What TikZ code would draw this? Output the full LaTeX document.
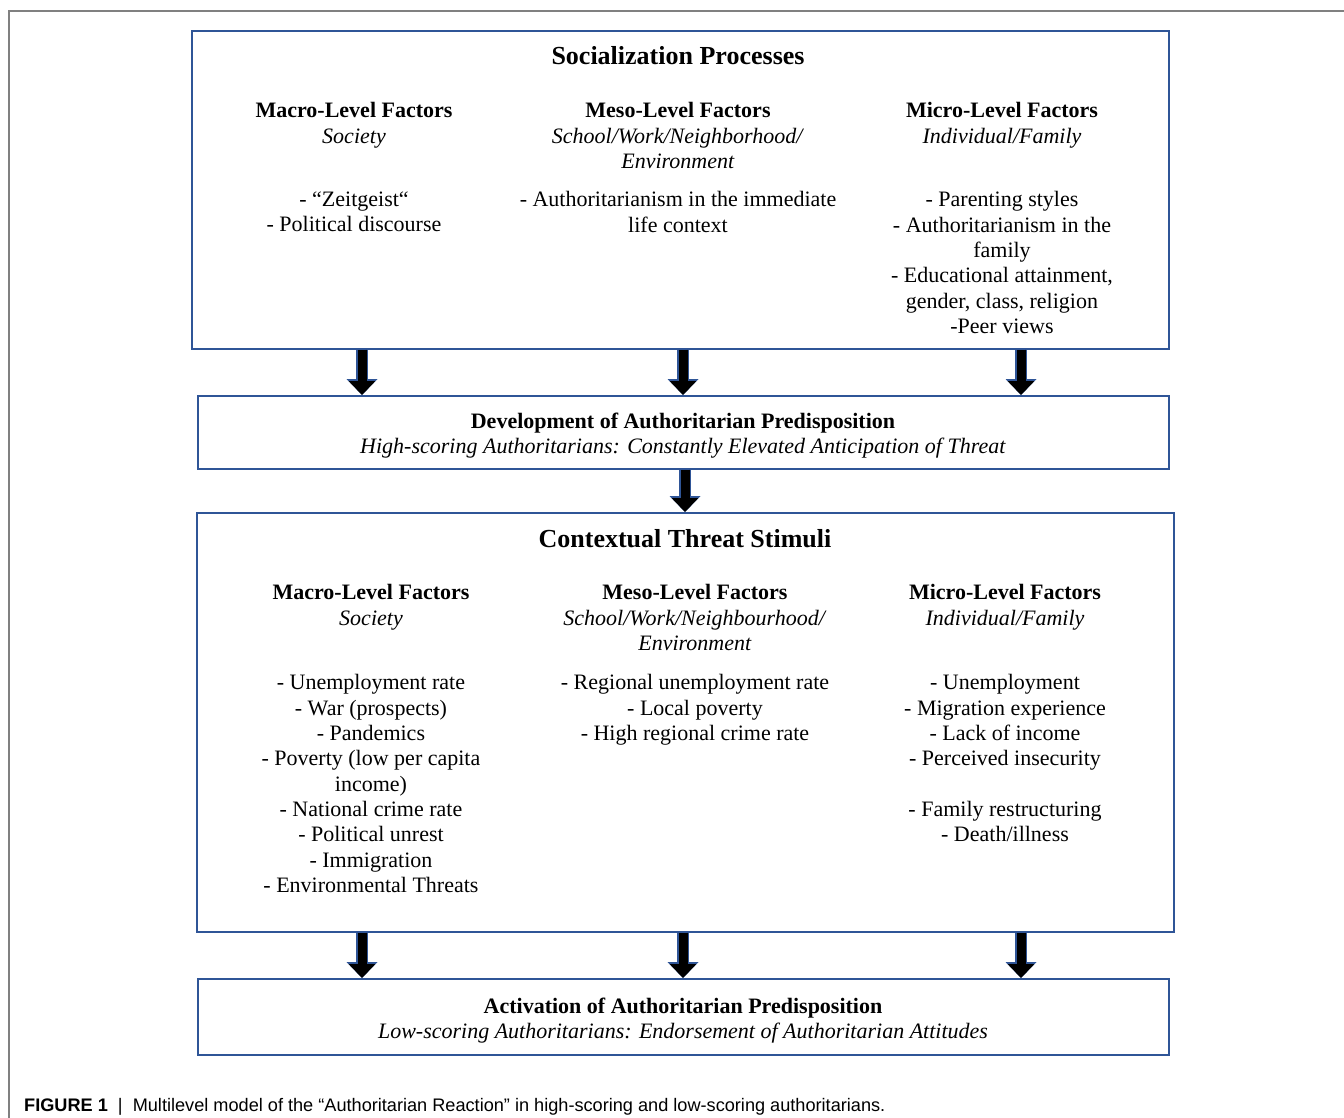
\documentclass[tikz,border=0pt]{standalone}
\usepackage{fontspec}
\setmainfont{Liberation Serif}
\newfontfamily\capfont{Liberation Sans}
\usetikzlibrary{arrows.meta,positioning}

\definecolor{boxblue}{RGB}{47,85,151}
\definecolor{framegray}{RGB}{128,128,128}

\tikzset{
  mainbox/.style={rectangle,draw=boxblue,line width=1.6pt,below right},
  txt/.style={align=center,inner sep=0pt,anchor=north,font=\fontsize{22}{25.3}\selectfont},
  headtxt/.style={align=center,inner sep=0pt,anchor=north,font=\fontsize{26}{30}\selectfont\bfseries},
  fatarrow/.style={draw=black,line width=9pt,-{Triangle[length=14pt,width=26pt]},
    preaction={draw=boxblue,line width=11.5pt,-{Triangle[length=16pt,width=30pt]}}}
}

\begin{document}
\begin{tikzpicture}[x=1pt,y=-1pt]
    \useasboundingbox (0,0) rectangle (1344,1118);
    % page frame
      \draw[framegray,line width=1.2pt] (9,1118) -- (9,11) -- (1344,11);

      % main modules
		  \node[mainbox,minimum width=977pt,minimum height=318pt] (soc) at (191,30) {};
	    \node[mainbox,minimum width=971pt,minimum height=73pt] (dev) at (197,395) {};
	    \node[mainbox,minimum width=977pt,minimum height=419pt] (ctx) at (196,512) {};
	    \node[mainbox,minimum width=971pt,minimum height=76pt] (act) at (197,978) {};

      % socialization processes
      \node[headtxt] (soctitle) at (678,46) {Socialization Processes};
      \node[txt] (socmacro) at (354,102.5) {\textbf{Macro-Level Factors}\\ \textit{Society}};
      \node[txt] (socmeso) at (678,102.5) {\textbf{Meso-Level Factors}\\ \textit{School/Work/Neighborhood/}\\ \textit{Environment}};
      \node[txt] (socmicro) at (1002,102.5) {\textbf{Micro-Level Factors}\\ \textit{Individual/Family}};
      \node[txt] (socmacrolist) at (354,191.5) {- “Zeitgeist“\\ - Political discourse};
      \node[txt] (socmesolist) at (678,191.5) {- Authoritarianism in the immediate\\ life context};
      \node[txt] (socmicrolist) at (1002,191.5) {- Parenting styles\\ - Authoritarianism in the\\ family\\ - Educational attainment,\\ gender, class, religion\\ -Peer views};

      % development
      \node[txt] (devtxt) at (683,412.5) {\textbf{Development of Authoritarian Predisposition}\\ \textit{High-scoring Authoritarians: Constantly Elevated Anticipation of Threat}};

      % contextual threat stimuli
      \node[headtxt] (ctxtitle) at (685,529) {Contextual Threat Stimuli};
      \node[txt] (ctxmacro) at (371,584.5) {\textbf{Macro-Level Factors}\\ \textit{Society}};
      \node[txt] (ctxmeso) at (695,584.5) {\textbf{Meso-Level Factors}\\ \textit{School/Work/Neighbourhood/}\\ \textit{Environment}};
      \node[txt] (ctxmicro) at (1005,584.5) {\textbf{Micro-Level Factors}\\ \textit{Individual/Family}};
      \node[txt] (ctxmacrolist) at (371,674.5) {- Unemployment rate\\ - War (prospects)\\ - Pandemics\\ - Poverty (low per capita\\ income)\\ - National crime rate\\ - Political unrest\\ - Immigration\\ - Environmental Threats};
      \node[txt] (ctxmesolist) at (695,674.5) {- Regional unemployment rate\\ - Local poverty\\ - High regional crime rate};
      \node[txt] (ctxmicrolist) at (1005,674.5) {- Unemployment\\ - Migration experience\\ - Lack of income\\ - Perceived insecurity\\[25.3pt] - Family restructuring\\ - Death/illness};

      % activation
      \node[txt] (acttxt) at (683,997.5) {\textbf{Activation of Authoritarian Predisposition}\\ \textit{Low-scoring Authoritarians: Endorsement of Authoritarian Attitudes}};

      % caption
      \node[anchor=base west,inner sep=0pt,font=\capfont\fontsize{18.15}{22}\selectfont] (caption) at (24,1111) {\textbf{FIGURE 1} \ | \ Multilevel model of the “Authoritarian Reaction” in high-scoring and low-scoring authoritarians.};

      % arrows between modules
      \foreach \x in {362,683,1021}
        \draw[fatarrow] (\x,0 |- soc.south) -- (\x,0 |- dev.north);
      \draw[fatarrow] (685,0 |- dev.south) -- (685,0 |- ctx.north);
      \foreach \x in {362,683,1021}
        \draw[fatarrow] (\x,0 |- ctx.south) -- (\x,0 |- act.north);
\end{tikzpicture}
\end{document}
